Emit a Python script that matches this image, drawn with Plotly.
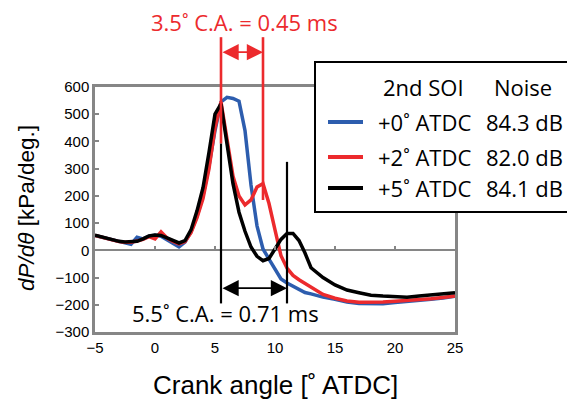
import plotly.graph_objects as go

# ---------------- data ----------------
x_deg = [-5, -4, -3, -2.5, -2, -1.5, -1, -0.5, 0, 0.5, 1, 1.5, 2, 2.5, 3, 3.5, 4, 4.5,
         5, 5.5, 6, 6.5, 7, 7.5, 8, 8.5, 9, 9.5, 10, 10.5, 11, 11.5, 12, 12.5, 13,
         14, 15, 16, 17, 18, 19, 20, 21, 22, 23, 24, 25]

soi_0 = [55, 44, 33, 28, 22, 48, 42, 52, 55, 52, 38, 25, 13, 30, 68, 125, 200, 310,
         440, 545, 562, 558, 548, 440, 240, 90, 5, -32, -70, -105, -120, -132, -145, -155, -160,
         -172, -180, -190, -195, -197, -196, -192, -189, -185, -180, -175, -169]

soi_2 = [55, 43, 32, 30, 30, 34, 40, 50, 42, 68, 45, 33, 24, 32, 65, 120, 190, 300,
         450, 545, 405, 272, 200, 167, 185, 233, 245, 172, 75, -20, -65, -92, -108, -122, -135,
         -162, -176, -186, -191, -192, -190, -187, -185, -182, -178, -173, -168]

soi_5 = [56, 45, 33, 31, 31, 33, 42, 53, 56, 55, 46, 35, 27, 36, 75, 145, 230, 360,
         500, 538, 400, 245, 140, 70, 12, -22, -38, -30, 5, 40, 62, 62, 36, -10, -64,
         -100, -127, -146, -156, -165, -168, -170, -172, -168, -163, -160, -156]

series_names = ["+0˚ ATDC", "+2˚ ATDC", "+5˚ ATDC"]
noise_labels = ["84.3 dB", "82.0 dB", "84.1 dB"]
series_values = [soi_0, soi_2, soi_5]
series_colors = ["#2D5DAE", "#EC2A2D", "#000000"]

x_ticks = [-5, 0, 5, 10, 15, 20, 25]
y_ticks = [-300, -200, -100, 0, 100, 200, 300, 400, 500, 600]
x_range = [-5, 25]
y_range = [-300, 600]

# interval markers (crank angle) and annotation texts
red_marks_x = [5.5, 9.0]
red_marks_bottom = [392, 185]
red_marks_top = 783
red_arrow_y = 728
red_text = "3.5˚ C.A. = 0.45 ms"

black_marks_x = [5.5, 11.0]
black_marks_top = [392, 325]
black_marks_bottom = -195
black_arrow_y = -139
black_text = "5.5˚ C.A. = 0.71 ms"

# ---------------- layout helpers ----------------
OFF = 8                      # page body margin offsets the figure
W, H = 575 - OFF, 403 - OFF
L, R, T, B = 95 - OFF, 455 - OFF, 87 - OFF, 332 - OFF


def px_x(X):
    return (X - OFF - L) / (R - L)


def px_y(Y):
    return (B - (Y - OFF)) / (B - T)


def yfrac(v):
    return (v - y_range[0]) / (y_range[1] - y_range[0])


GRAY = "#868686"
RED = series_colors[1]
TXT_FONT = "Open Sans"
AX_FONT = "Liberation Sans"

fig = go.Figure()

for name, vals, col in zip(series_names, series_values, series_colors):
    fig.add_trace(go.Scatter(x=x_deg, y=vals, mode="lines", name=name,
                             line=dict(color=col, width=3.5), showlegend=False))

# dummy trace for the tick axis at y = 0
fig.add_trace(go.Scatter(x=x_ticks[:1], y=[None], xaxis="x2", showlegend=False,
                         hoverinfo="skip"))

shapes = []
annotations = []

# red markers
for xm, yb in zip(red_marks_x, red_marks_bottom):
    shapes.append(dict(type="line", xref="x", yref="paper", x0=xm, x1=xm,
                       y0=yfrac(yb), y1=yfrac(red_marks_top),
                       line=dict(color=RED, width=2.6)))
# black markers
for xm, yt in zip(black_marks_x, black_marks_top):
    shapes.append(dict(type="line", xref="x", yref="y", x0=xm, x1=xm,
                       y0=black_marks_bottom, y1=yt,
                       line=dict(color="black", width=2.2)))

# arrows
annotations.append(dict(xref="x", yref="paper", x=red_marks_x[1], y=yfrac(red_arrow_y),
                        axref="x", ayref="pixel", ax=red_marks_x[0], ay=0,
                        text="", showarrow=True, arrowside="end+start",
                        arrowhead=2, arrowsize=1.8, arrowwidth=1.8, arrowcolor=RED))
annotations.append(dict(xref="x", yref="paper", x=black_marks_x[1], y=yfrac(black_arrow_y),
                        axref="x", ayref="pixel", ax=black_marks_x[0], ay=0,
                        text="", showarrow=True, arrowside="end+start",
                        arrowhead=2, arrowsize=1.8, arrowwidth=1.8, arrowcolor="black"))

# annotation texts
annotations.append(dict(xref="paper", yref="paper", x=px_x(244), y=px_y(22),
                        text=red_text, showarrow=False, xanchor="center", yanchor="middle",
                        font=dict(family=TXT_FONT, size=22, color=RED)))
annotations.append(dict(xref="paper", yref="paper", x=px_x(225), y=px_y(313),
                        text=black_text, showarrow=False, xanchor="center", yanchor="middle",
                        font=dict(family=TXT_FONT, size=22, color="black")))

# legend (manual, table-like)
shapes.append(dict(type="rect", xref="paper", yref="paper",
                   x0=px_x(315), x1=px_x(573), y0=px_y(212), y1=px_y(62),
                   line=dict(color="black", width=2), fillcolor="white", layer="above"))
annotations.append(dict(xref="paper", yref="paper", x=px_x(423), y=px_y(87),
                        text="2nd SOI", showarrow=False, xanchor="center", yanchor="middle",
                        font=dict(family=TXT_FONT, size=22, color="black")))
annotations.append(dict(xref="paper", yref="paper", x=px_x(523), y=px_y(87),
                        text="Noise", showarrow=False, xanchor="center", yanchor="middle",
                        font=dict(family=TXT_FONT, size=22, color="black")))
row_y = [122, 157, 188]
for ry, name, noise, col in zip(row_y, series_names, noise_labels, series_colors):
    shapes.append(dict(type="line", xref="paper", yref="paper",
                       x0=px_x(328), x1=px_x(363), y0=px_y(ry), y1=px_y(ry),
                       line=dict(color=col, width=4), layer="above"))
    annotations.append(dict(xref="paper", yref="paper", x=px_x(376), y=px_y(ry),
                            text=name, showarrow=False, xanchor="left", yanchor="middle",
                            font=dict(family=TXT_FONT, size=22, color="black")))
    annotations.append(dict(xref="paper", yref="paper", x=px_x(484), y=px_y(ry),
                            text=noise, showarrow=False, xanchor="left", yanchor="middle",
                            font=dict(family=TXT_FONT, size=22, color="black")))

# axis titles
annotations.append(dict(xref="paper", yref="paper", x=px_x(275), y=px_y(385),
                        text="Crank angle [˚ ATDC]", showarrow=False,
                        xanchor="center", yanchor="middle",
                        font=dict(family=AX_FONT, size=26, color="black")))
annotations.append(dict(xref="paper", yref="paper", x=px_x(26), y=px_y(208),
                        text="<i>dP/dθ</i> [kPa/deg.]", showarrow=False, textangle=-90,
                        xanchor="center", yanchor="middle",
                        font=dict(family=AX_FONT, size=22.5, color="black")))

fig.update_layout(
    width=W, height=H,
    margin=dict(l=L, r=W - R, t=T, b=H - B, pad=0),
    paper_bgcolor="white", plot_bgcolor="white",
    showlegend=False,
    xaxis=dict(range=x_range, tickvals=x_ticks, ticks="", showgrid=False, zeroline=False,
               showline=True, mirror=True, linecolor=GRAY, linewidth=2.5,
               tickfont=dict(family=AX_FONT, size=15, color="black")),
    xaxis2=dict(range=x_range, tickvals=x_ticks, overlaying="x", anchor="free",
                position=yfrac(0), side="bottom", ticks="inside", ticklen=4,
                tickwidth=1.5, tickcolor=GRAY, showticklabels=False, showline=False,
                showgrid=False, zeroline=False),
    yaxis=dict(range=y_range, tickvals=y_ticks, ticks="inside", ticklen=4, tickwidth=1.5,
               tickcolor=GRAY, showgrid=False, zeroline=True, zerolinecolor=GRAY,
               zerolinewidth=2, showline=True, mirror=True, linecolor=GRAY, linewidth=2.5,
               tickfont=dict(family=AX_FONT, size=15, color="black")),
    shapes=shapes,
    annotations=annotations,
)

fig.write_html("out.html")
